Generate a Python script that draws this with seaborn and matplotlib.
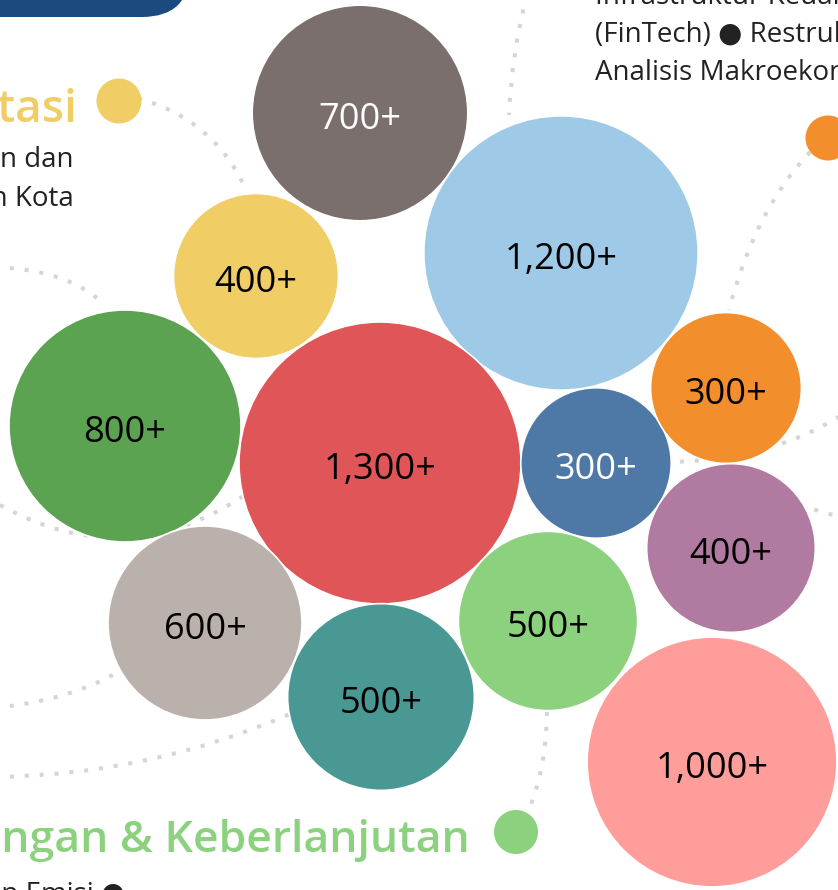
import numpy as np
import pandas as pd
import matplotlib
matplotlib.use("Agg")
import matplotlib.pyplot as plt
from matplotlib.path import Path
from matplotlib.patches import PathPatch, FancyBboxPatch, Circle
import seaborn as sns

# bubble data (positions read in pixel units of the 838x890 canvas)
labels = ["700+", "1,200+", "400+", "800+", "1,300+", "300+",
          "300+", "400+", "600+", "500+", "500+", "1,000+"]
values = [760, 1230, 445, 880, 1300, 370, 372, 465, 615, 570, 525, 1020]
bx = [360, 561, 256, 125, 380, 596, 726, 731, 205, 381, 548, 712]
by = [113, 253, 276, 426, 463, 463, 388, 548, 623, 697, 621, 762]
colors = ["#7a6f6c", "#9fcae7", "#f0cd65", "#5ba350", "#e05658", "#4e79a7",
          "#f28e2b", "#b07aa1", "#bab0ac", "#499894", "#8cd17d", "#ff9d9a"]
label_colors = ["white", "black", "black", "black", "black", "white",
                "black", "black", "black", "black", "black", "black"]

# dotted connectors: start, control, end
connectors = [
    [(138, 98), (215, 120), (246, 190)],
    [(527, -5), (512, 50), (509, 115)],
    [(810, 152), (755, 210), (729, 310)],
    [(-5, 267), (70, 270), (105, 305)],
    [(0, 505), (125, 575), (245, 495)],
    [(-5, 708), (70, 700), (118, 672)],
    [(-5, 777), (150, 775), (290, 714)],
    [(665, 462), (770, 462), (845, 413)],
    [(800, 505), (820, 512), (845, 518)],
    [(547, 712), (546, 770), (528, 812)],
]

W, H, DPI = 838, 890, 100
fig = plt.figure(figsize=(W / DPI, H / DPI), dpi=DPI)
ax = fig.add_axes([0, 0, 1, 1])
ax.set_xlim(0, W)
ax.set_ylim(H, 0)
ax.axis("off")

# navy banner top-left
ax.add_patch(FancyBboxPatch((-120, -150), 310, 167,
                            boxstyle="round,pad=0,rounding_size=48",
                            fc="#1a4a7e", ec="none", zorder=1))

for p0, c, p1 in connectors:
    path = Path([p0, c, p1], [Path.MOVETO, Path.CURVE3, Path.CURVE3])
    ax.add_patch(PathPatch(path, fc="none", ec="#d5d5d5", lw=2.9,
                           ls=(0, (1, 2.7)), capstyle="butt", zorder=1))

df = pd.DataFrame({"x": bx, "y": by, "value": values,
                   "bubble": [f"b{i}" for i in range(len(labels))]})
smax = (2 * 141 * 72 / DPI) ** 2
sns.scatterplot(data=df, x="x", y="y", hue="bubble", size="value",
                palette=dict(zip(df["bubble"], colors)),
                sizes=(0, smax), size_norm=(0, 1300),
                edgecolor="white", linewidth=1.2, alpha=1,
                legend=False, ax=ax, zorder=2)
ax.set_xlim(0, W)
ax.set_ylim(H, 0)

fam = ["Open Sans", "DejaVu Sans"]
for x, y, t, tc in zip(bx, by, labels, label_colors):
    ax.text(x, y + 16, t, ha="center", va="baseline", fontsize=26,
            color=tc, family=fam, zorder=3)

# small connector dots
for (cx, cy, r, col) in [(119, 101, 22.5, "#f0cd65"), (828, 138, 22.5, "#f28e2b"),
                         (516, 832, 22, "#8cd17d")]:
    ax.add_patch(Circle((cx, cy), r, fc=col, ec="none", zorder=3))

# surrounding text fragments
ax.text(77, 122, "Adaptasi", ha="right", va="baseline", fontsize=33,
        fontweight="semibold", color="#f0cd65", family=fam)
ax.text(73, 167, "Mitigasi Perkotaan dan", ha="right", va="baseline", fontsize=20,
        color="#222222", family=fam)
ax.text(74, 206, "Ketahanan Iklim di Wilayah Kota", ha="right", va="baseline",
        fontsize=20, color="#222222", family=fam)

ax.text(595, 4, "Infrastruktur Keuangan Digital", ha="left", va="baseline",
        fontsize=20, color="#222222", family=fam)
ax.text(595, 42, "(FinTech) \u25cf Restrukturisasi Utang", ha="left", va="baseline",
        fontsize=20, color="#222222", family=fam)
ax.text(595, 80, "Analisis Makroekonomi", ha="left", va="baseline",
        fontsize=20, color="#222222", family=fam)

ax.text(470, 852, "Energi, Lingkungan & Keberlanjutan", ha="right", va="baseline",
        fontsize=32, fontweight="semibold", color="#8cd17d", family=fam)
ax.text(125, 902, "Pengurangan Emisi \u25cf", ha="right", va="baseline",
        fontsize=20, color="#222222", family=fam)

fig.savefig("out.png", dpi=DPI, facecolor="white")
